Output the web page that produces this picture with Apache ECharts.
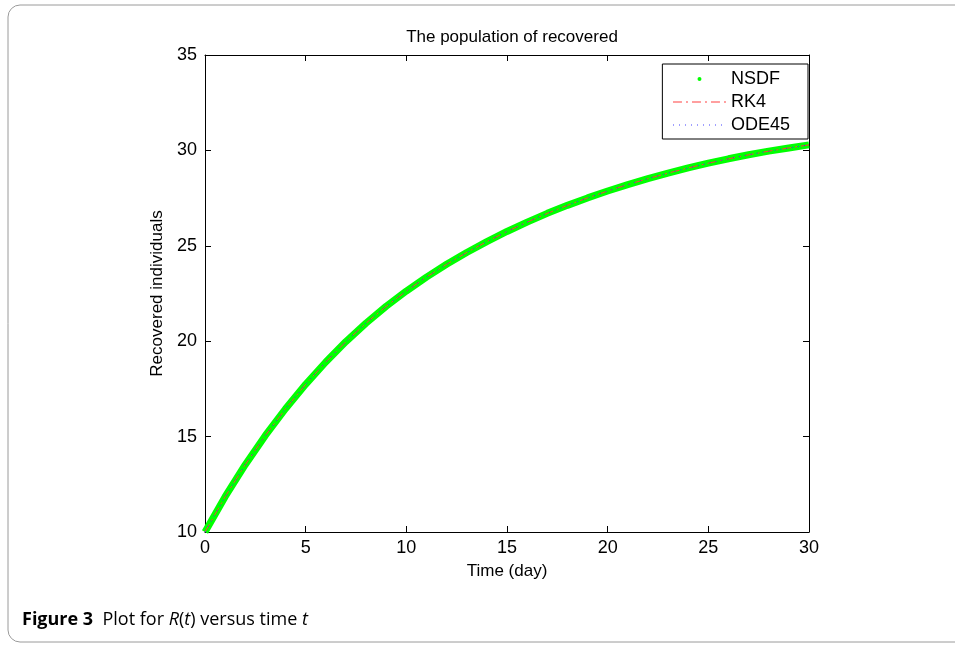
<!DOCTYPE html>
<html>
<head>
<meta charset="utf-8">
<script src="https://cdn.jsdelivr.net/npm/echarts@6/dist/echarts.min.js"></script>
<style>
html,body{margin:0;padding:0;background:#fff;}
#main{width:955px;height:647px;}
</style>
</head>
<body>
<div id="main"></div>
<script>
// time in days
var days = [0,1,2,3,4,5,6,7,8,9,10,11,12,13,14,15,16,17,18,19,20,21,22,23,24,25,26,27,28,29,30];
// recovered population
var nsdf  = [10,11.85,13.53,15.06,16.46,17.74,18.91,19.98,20.95,21.83,22.63,23.36,24.03,24.65,25.22,25.75,26.24,26.70,27.12,27.51,27.87,28.21,28.52,28.81,29.08,29.33,29.56,29.77,29.96,30.13,30.29];
var rk4   = [10,11.85,13.53,15.06,16.46,17.74,18.91,19.98,20.95,21.83,22.63,23.36,24.03,24.65,25.22,25.75,26.24,26.70,27.12,27.51,27.87,28.21,28.52,28.81,29.08,29.33,29.56,29.77,29.96,30.13,30.29];
var ode45 = [10,11.85,13.53,15.06,16.46,17.74,18.91,19.98,20.95,21.83,22.63,23.36,24.03,24.65,25.22,25.75,26.24,26.70,27.12,27.51,27.87,28.21,28.52,28.81,29.08,29.33,29.56,29.77,29.96,30.13,30.29];

function pairs(ys){
    var out = [];
    for (var i = 0; i < days.length; i++) out.push([days[i], ys[i]]);
    return out;
}

var chart = echarts.init(document.getElementById("main"));
var font = "Liberation Sans, Arial, sans-serif";
var axisCommon = {
    type: 'value',
    axisLine: {show: true, onZero: false, lineStyle: {color: '#000', width: 1}},
    axisTick: {show: true, inside: true, length: 6, lineStyle: {color: '#000'}},
    splitLine: {show: false}
};
// small dot centred in a 53x10 box for the NSDF legend entry
var dotIcon = 'path://M0,0M53,10M24.5,5a2,2 0 1,0 4,0a2,2 0 1,0 -4,0z';

var option = {
    animation: false,
    title: {
        text: 'The population of recovered',
        left: 507, top: 24, textAlign: 'center',
        textStyle: {color: '#000', fontWeight: 'normal', fontSize: 17, fontFamily: font}
    },
    grid: {left: 205, right: 146, top: 55, bottom: 115},
    legend: {
        orient: 'vertical',
        right: 147, top: 64,
        backgroundColor: '#fff',
        borderColor: '#000', borderWidth: 1, borderRadius: 0,
        padding: [6, 18, 5, 10],
        itemWidth: 53, itemHeight: 10, itemGap: 5,
        textStyle: {color: '#000', fontSize: 18, fontFamily: font},
        data: [
            {name: 'NSDF', icon: dotIcon, itemStyle: {color: '#00ff00'}},
            {name: 'RK4', itemStyle: {color: 'rgba(0,0,0,0)', borderWidth: 0},
                lineStyle: {color: '#ff4040', width: 1.2, type: [9, 4, 2, 4]}},
            {name: 'ODE45', itemStyle: {color: 'rgba(0,0,0,0)', borderWidth: 0},
                lineStyle: {color: '#3a3aff', width: 1.2, type: [1, 5]}}
        ]
    },
    xAxis: [
        Object.assign({}, axisCommon, {
            position: 'bottom', min: 0, max: 30, interval: 5,
            name: 'Time (day)', nameLocation: 'middle', nameGap: 31,
            nameTextStyle: {color: '#000', fontSize: 17, fontFamily: font},
            axisLabel: {color: '#000', fontSize: 18, fontFamily: font, margin: 7}
        }),
        Object.assign({}, axisCommon, {
            position: 'top', min: 0, max: 30, interval: 5,
            axisLabel: {show: false}
        })
    ],
    yAxis: [
        Object.assign({}, axisCommon, {
            position: 'left', min: 10, max: 35, interval: 5,
            name: 'Recovered individuals', nameLocation: 'middle', nameGap: 36,
            nameTextStyle: {color: '#000', fontSize: 17, fontFamily: font},
            axisLabel: {color: '#000', fontSize: 18, fontFamily: font, margin: 8}
        }),
        Object.assign({}, axisCommon, {
            position: 'right', min: 10, max: 35, interval: 5,
            axisLabel: {show: false}
        })
    ],
    series: [
        {
            name: 'NSDF', type: 'line', symbol: 'none',
            lineStyle: {color: '#00ff00', width: 7},
            itemStyle: {color: '#00ff00'},
            data: pairs(nsdf)
        },
        {
            name: 'RK4', type: 'line', symbol: 'none',
            lineStyle: {color: '#ff3b3b', width: 1, type: [9, 4, 2, 4]},
            itemStyle: {color: '#ff3b3b'},
            data: pairs(rk4)
        },
        {
            name: 'ODE45', type: 'line', symbol: 'none',
            lineStyle: {color: '#3333ff', width: 1, type: [1, 5]},
            itemStyle: {color: '#3333ff'},
            data: pairs(ode45)
        }
    ],
    graphic: [
        {
            type: 'rect', silent: true,
            shape: {x: 8, y: 5, width: 1000, height: 637, r: 12},
            style: {fill: 'none', stroke: '#9a9a9a', lineWidth: 1}
        },
        {
            type: 'text', left: 22, top: 611,
            style: {
                text: '{b|Figure 3}  Plot for {i|R}({i|t}) versus time {i|t}',
                rich: {
                    b: {fontWeight: 'bold', fontSize: 18, fontFamily: 'Open Sans', fill: '#000'},
                    i: {fontStyle: 'italic', fontSize: 18, fontFamily: 'Open Sans', fill: '#000'}
                },
                fontSize: 18, fontFamily: 'Open Sans', fill: '#000'
            }
        }
    ]
};
chart.setOption(option);
</script>
</body>
</html>
